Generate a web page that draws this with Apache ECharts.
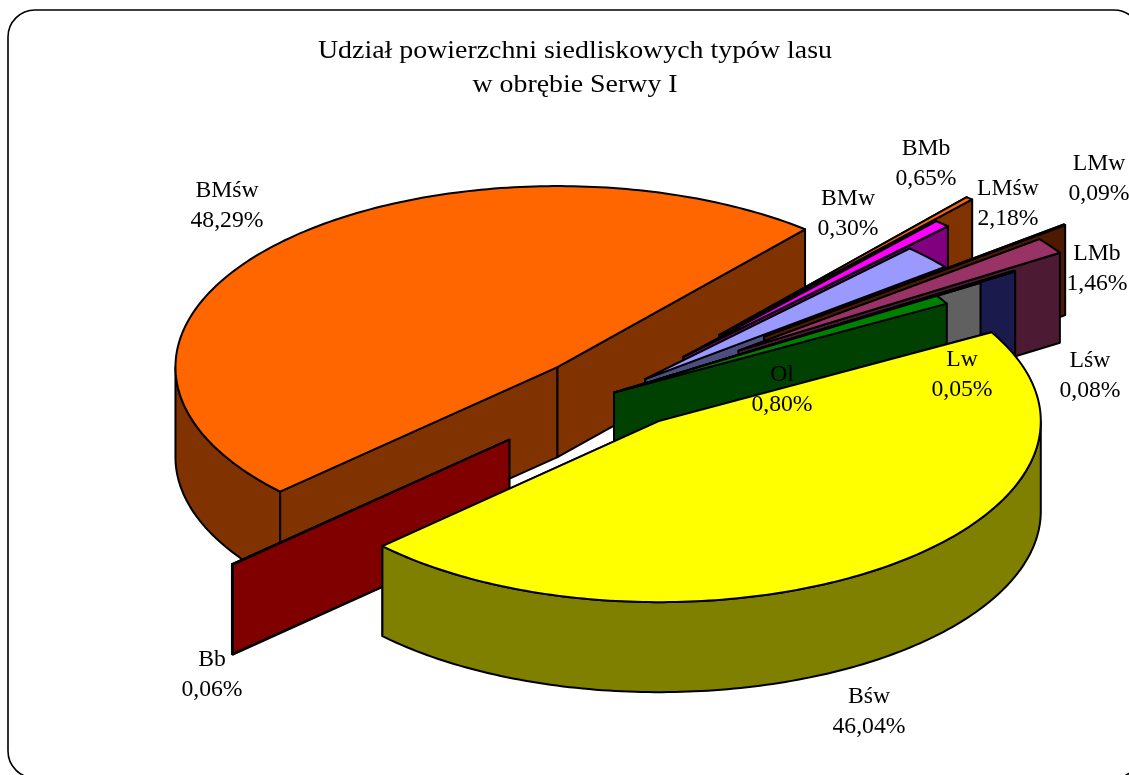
<!DOCTYPE html>
<html>
<head>
<meta charset="utf-8">
<style>html,body{margin:0;padding:0;background:#fff}#c{width:1129px;height:775px}</style>
<script src="https://cdn.jsdelivr.net/npm/echarts@6/dist/echarts.min.js"></script>
</head>
<body>
<div id="c"></div>
<script>
// Data (clockwise order, starting from the large orange slice)
var categories = ['BMśw','BMw','BMb','LMśw','LMw','LMb','Lśw','Lw','Ol','Bśw','Bb'];
var shares     = [48.29, 0.30, 0.65, 2.18, 0.09, 1.46, 0.08, 0.05, 0.80, 46.04, 0.06];
var percentLabels = ['48,29%','0,30%','0,65%','2,18%','0,09%','1,46%','0,08%','0,05%','0,80%','46,04%','0,06%'];
var titleLines = ['Udział powierzchni siedliskowych typów lasu', 'w obrębie Serwy I'];

// Styles / layout
var explosion = [0.204,0.42,0.268,0.11,0.50,0.40,0.245,0.135,0,0.197,0.378];
var topColors  = ['#FF6600','#FF6600','#FF00FF','#9999FF','#993300','#993366','#333399','#C0C0C0','#008000','#FFFF00','#FF0000'];
var wallColors = ['#803300','#803300','#800080','#4D4D80','#4D1A00','#4D1A33','#1A1A4D','#606060','#004000','#808000','#800000'];
var labelCentres = [[227,206],[848,214],[926,164],[1008,204],[1099,179],[1097,269],[1090,376],[962,375],[782,390],[869,712],[212,675]];
var drawOrder = [0,1,2,3,4,5,6,7,8,10,9]; // back to front; the thin Bb slab sits behind Bśw
var startAngle = 223.44, cx = 614, cy = 392.5, rx = 382, ry = 181, depth = 90;
var FONT = '"Liberation Serif","Times New Roman",serif';

var total = shares.reduce(function(a,b){return a+b;},0);
var startAngles = [], acc = startAngle;
shares.forEach(function(v){ startAngles.push(acc); acc -= v/total*360; });

function pt(deg, ox, oy, dz){
  var t = deg*Math.PI/180;
  return [ox + rx*Math.cos(t), oy - ry*Math.sin(t) + (dz||0)];
}
function arc(a0, a1, ox, oy, dz){
  var n = Math.max(1, Math.ceil(Math.abs(a0-a1))), out=[];
  for (var i=0;i<=n;i++) out.push(pt(a0+(a1-a0)*i/n, ox, oy, dz));
  return out;
}
var LINE = {stroke:'#000', lineWidth:2, lineJoin:'round'};
function poly(points, fill){
  return {type:'polygon', shape:{points:points}, style:Object.assign({fill:fill}, LINE)};
}
function renderSlice(params, api){
  var value = api.value(0), i = api.value(1);
  var a0 = startAngles[i], a1 = a0 - value/total*360, mid = (a0+a1)/2, m = mid*Math.PI/180;
  var ox = cx + explosion[i]*rx*Math.cos(m), oy = cy - explosion[i]*ry*Math.sin(m);
  var kids = [];
  [a0, a1].forEach(function(a){
    var p = pt(a,ox,oy);
    kids.push(poly([[ox,oy],p,[p[0],p[1]+depth],[ox,oy+depth]], wallColors[i]));
  });
  [-360,0].forEach(function(k){
    var lo = Math.max(a1, 180+k), hi = Math.min(a0, 360+k);
    if (hi > lo){
      var top = arc(lo,hi,ox,oy,0), bot = arc(hi,lo,ox,oy,depth);
      kids.push(poly(top.concat(bot), wallColors[i]));
    }
  });
  kids.push(poly([[ox,oy]].concat(arc(a0,a1,ox,oy,0)), topColors[i]));
  return {type:'group', children:kids};
}
function renderLabel(params, api){
  var i = params.dataIndex, c = labelCentres[i];
  return {type:'text', x:c[0], y:c[1], scaleX:1.03, style:{
    text: categories[i]+'\n'+percentLabels[i], fill:'#000', align:'center', verticalAlign:'middle',
    font: '23px '+FONT, lineHeight:30
  }};
}
var chart = echarts.init(document.getElementById('c'), null, {renderer:'canvas'});
chart.setOption({
  animation:false,
  backgroundColor:'#fff',
  graphic:[
    {type:'rect', silent:true, z:-1,
     shape:{x:8,y:10,width:1133,height:768,r:27},
     style:{fill:'#fff',stroke:'#000',lineWidth:1.6}},
    {type:'text', silent:true, x:575, y:68, scaleX:1.115, style:{
     text:titleLines.join('\n'), fill:'#000', align:'center', verticalAlign:'middle',
     font:'25px '+FONT, lineHeight:34}}
  ],
  series:[
    {type:'custom', coordinateSystem:'none', silent:true, renderItem:renderSlice,
     data:drawOrder.map(function(i){return {name:categories[i], value:[shares[i], i]};})},
    {type:'custom', coordinateSystem:'none', silent:true, renderItem:renderLabel, z:5,
     data:shares.map(function(v,i){return {name:categories[i], value:[v]};})}
  ]
});
</script>
</body>
</html>
